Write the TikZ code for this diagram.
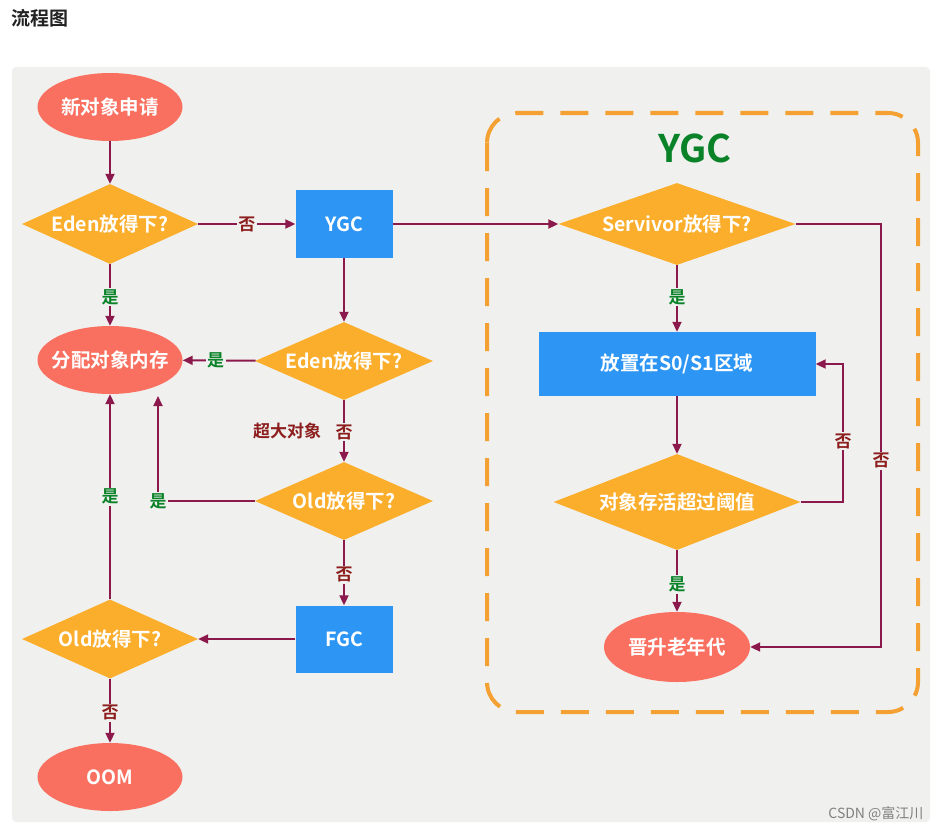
\documentclass[tikz,border=0pt]{standalone}
\usepackage{fontspec}
\setmainfont{Noto Sans CJK SC}[BoldFont={Noto Sans CJK SC Bold}]
\usetikzlibrary{shapes.geometric,arrows.meta,calc}
\definecolor{panelc}{RGB}{240,241,239}
\definecolor{salmon}{RGB}{250,112,96}
\definecolor{orangec}{RGB}{251,174,44}
\definecolor{bluec}{RGB}{45,150,245}
\definecolor{linec}{RGB}{140,25,75}
\definecolor{dashc}{RGB}{245,160,50}
\definecolor{greenc}{RGB}{10,130,40}
\definecolor{redlab}{RGB}{140,30,30}
\definecolor{titlec}{RGB}{34,34,34}
\begin{document}
\begin{tikzpicture}[x=1pt,y=-1pt,
  nodefont/.style={font=\bfseries\fontsize{19.5}{19.5}\selectfont, text=white},
  oval/.style={ellipse, fill=salmon, minimum width=145, minimum height=68, inner sep=0, nodefont},
  dec/.style={diamond, fill=orangec, inner sep=0, nodefont},
  boxn/.style={rectangle, fill=bluec, inner sep=0, nodefont},
  arr/.style={draw=linec, line width=2, -{Triangle[length=10,width=9]}},
  yes/.style={fill=panelc, inner sep=1.5, text=greenc, font=\bfseries\fontsize{17}{17}\selectfont},
  no/.style={fill=panelc, inner sep=1.5, text=redlab, font=\bfseries\fontsize{17}{17}\selectfont}]
\useasboundingbox (0,0) rectangle (941,832);
\fill[white] (0,0) rectangle (941,832);
\fill[panelc, rounded corners=4] (12,67) rectangle (930,822);
\node[anchor=west, text=titlec, font=\bfseries\fontsize{19}{19}\selectfont] (title) at (8,18) {流程图};
% YGC region
\draw[dashc, line width=4, dash pattern=on 28 off 17, rounded corners=30] (487,113) rectangle (918,712);
\node[text=greenc, font=\bfseries\fontsize{38}{38}\selectfont] (ygctitle) at (695,148) {YGC};
% left nodes
\node[oval, inner xsep=-10] (new) at (110,107) {新对象申请};
\node[dec, aspect=2.2, minimum width=176, minimum height=80] (eden1) at (110,224) {Eden放得下?};
\node[boxn, minimum width=97, minimum height=68] (ygc) at (344,224) {YGC};
\node[oval, inner xsep=-10] (alloc) at (110,360) {分配对象内存};
\node[dec, aspect=2.28, minimum width=178, minimum height=78] (eden2) at (344,361) {Eden放得下?};
\node[dec, aspect=2.28, minimum width=178, minimum height=78] (old1) at (344,501) {Old放得下?};
\node[boxn, minimum width=97, minimum height=67] (fgc) at (344,639) {FGC};
\node[dec, aspect=2.23, minimum width=176, minimum height=79] (old2) at (110,639) {Old放得下?};
\node[oval] (oom) at (110,777) {OOM};
% right nodes
\node[dec, aspect=2.9, minimum width=237, minimum height=82] (surv) at (677,224) {Servivor放得下?};
\node[boxn, minimum width=277, minimum height=64] (s01) at (677,364) {放置在S0/S1区域};
\node[dec, aspect=2.57, minimum width=247, minimum height=96] (age) at (677,502) {对象存活超过阈值};
\node[oval, inner xsep=-10, minimum width=146, minimum height=70] (promo) at (677,647) {晋升老年代};
% coordinates
\coordinate (allocin) at (158,396);
\coordinate (s01in) at (843,364);
\coordinate (promoin) at (881,647);
% connectors
\draw[arr] (new) -- (eden1);
\draw[arr] (eden1) -- node[no] {否} (ygc);
\draw[arr] (eden1) -- node[yes, pos=0.53] {是} (alloc);
\draw[arr] (ygc) -- (eden2);
\draw[arr] (eden2) -- node[yes, pos=0.55] {是} (alloc);
\draw[arr] (eden2) -- node[no, pos=0.52] {否} (old1);
\node[text=redlab, font=\bfseries\fontsize{17}{17}\selectfont] (big) at (287,431) {超大对象};
\draw[arr] (old1.west) -| node[yes, pos=0.5] {是} (allocin);
\draw[arr] (old1) -- node[no, pos=0.53] {否} (fgc);
\draw[arr] (fgc) -- (old2);
\draw[arr] (old2.north) -- node[yes, pos=0.5] {是} (alloc.south);
\draw[arr] (old2) -- node[no, pos=0.53] {否} (oom);
\draw[arr] (ygc.east) -- (surv.west);
\draw[arr] (surv) -- node[yes, pos=0.48] {是} (s01);
\draw[arr] (s01) -- (age);
\draw[arr] (age) -- node[yes, pos=0.56] {是} (promo);
\draw[arr] (age.east) -| node[no, pos=0.72] {否} (s01in) -- (s01.east);
\draw[arr] (surv.east) -| node[no, pos=0.78] {否} (promoin) -- (promo.east);
\node[anchor=east, text=black!50, font=\fontsize{14}{14}\selectfont] (wm) at (927,814) {CSDN @富江川};
\end{tikzpicture}
\end{document}
